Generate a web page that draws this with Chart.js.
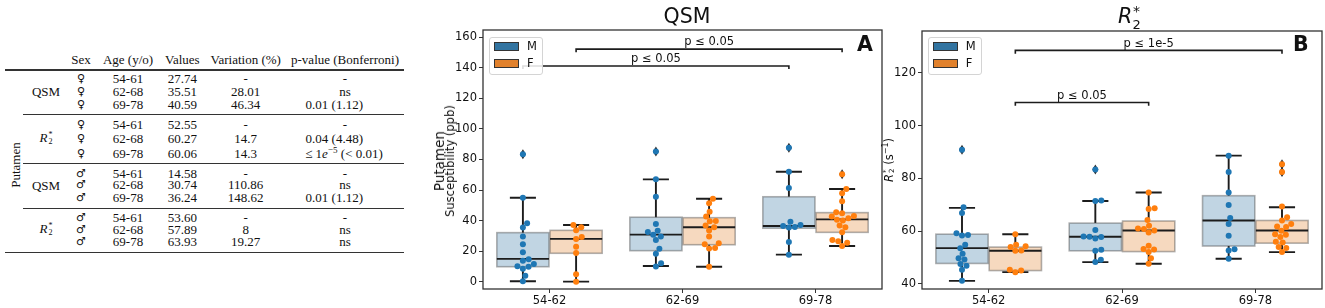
<!DOCTYPE html>
<html><head><meta charset="utf-8">
<script src="https://cdn.jsdelivr.net/npm/chart.js@4"></script>
<style>
html,body{margin:0;padding:0;background:#fff;width:1325px;height:308px;overflow:hidden;position:relative}
.abs{position:absolute}
#tbl{font-family:'Liberation Serif','DejaVu Serif',serif;font-size:13px;color:#111}
.c{position:absolute;transform:translate(-50%,-50%);white-space:nowrap;line-height:1}
.rule{position:absolute;background:#333}
.sans{font-family:'DejaVu Sans',sans-serif;color:#111;white-space:nowrap}
.stk{display:inline-block;vertical-align:middle;font-size:0.62em;line-height:0.85;text-align:left;margin-left:1px}
.stk span{display:block}
.leg{position:absolute;border:1px solid #d4d4d4;border-radius:3px;background:rgba(255,255,255,0.85);box-sizing:border-box}
.patch{position:absolute;width:25px;height:8.5px;border:1px solid #333;box-sizing:border-box}
.legt{position:absolute;font-family:'DejaVu Sans',sans-serif;font-size:11.5px;line-height:1;color:#111}
</style></head><body>
<div id="tbl" class="abs" style="left:0;top:0;width:420px;height:308px"></div>
<canvas id="cA" width="465" height="308" class="abs" style="left:420px;top:0;width:465px;height:308px"></canvas>
<canvas id="cB" width="465" height="308" class="abs" style="left:860px;top:0;width:465px;height:308px"></canvas>

<!-- titles and labels -->
<div class="sans abs" style="left:687px;top:5.6px;font-size:20.5px;line-height:1;transform:translateX(-50%)">QSM</div>
<div class="sans abs" style="left:1118px;top:6px;font-size:20.5px;line-height:1;font-style:italic">R</div>
<div class="sans abs" style="left:1132.5px;top:18.3px;font-size:13px;line-height:1">2</div>
<div class="sans abs" style="left:1133px;top:3.8px;font-size:14px;line-height:1">*</div>
<div class="abs" style="left:857px;top:34.3px;font-family:'DejaVu Sans';font-weight:bold;font-size:20.5px;line-height:1;color:#111">A</div>
<div class="abs" style="left:1293px;top:34.3px;font-family:'DejaVu Sans';font-weight:bold;font-size:20.5px;line-height:1;color:#111">B</div>
<div class="sans abs" style="left:445px;top:161px;transform:translate(-50%,-50%) rotate(-90deg);text-align:center">
  <div style="font-size:13.5px;line-height:11px">Putamen</div>
  <div style="font-size:11.5px;line-height:11px">Susceptibility (ppb)</div>
</div>
<div class="sans abs" style="left:889px;top:160px;transform:translate(-50%,-50%) rotate(-90deg);font-size:11.5px;line-height:1">
  <i>R</i><span class="stk"><span>*</span><span>2</span></span> (s<sup style="font-size:0.7em">−1</sup>)
</div>
<div id="legA"></div><div id="legB"></div>

<script>
// ---------------- DATA ----------------
const ageGroups = ['54-62', '62-69', '69-78'];
const sexLabels = ['M', 'F'];
const qsmTicks = [0, 20, 40, 60, 80, 100, 120, 140, 160];
const r2Ticks = [40, 60, 80, 100, 120];

// box stats per age group: [lower whisker, Q1, median, Q3, upper whisker]
const qsmMaleBox = [[0.3, 9.8, 14.9, 32.1, 55.0], [10.3, 20.3, 30.8, 42.2, 67.0], [17.7, 35.0, 36.5, 55.6, 72.0]];
const qsmFemaleBox = [[0, 18.6, 28.0, 33.6, 37.1], [9.8, 24.2, 35.6, 41.9, 54.3], [23.4, 32.3, 40.8, 45.2, 60.7]];
const qsmMalePoints = [
  [83.4, 55.0, 38.2, 35.4, 29.5, 24.5, 19.2, 14.7, 13.7, 11.6, 10.1, 9.8, 8.5, 3.9, 0.3],
  [85.3, 67.0, 55.6, 37.8, 33.4, 32.6, 30.8, 29.5, 27.3, 21.5, 18.3, 12.0, 10.0],
  [87.7, 72.0, 61.3, 39.3, 37.1, 36.5, 35.8, 35.5, 26.0, 17.7]];
const qsmFemalePoints = [
  [37.1, 35.6, 33.6, 29.3, 28.0, 22.9, 18.8, 4.8, 0],
  [54.3, 51.3, 45.8, 42.6, 39.7, 39.5, 36.7, 35.6, 33.5, 29.5, 25.1, 24.5, 22.0, 21.8, 9.8],
  [70.3, 60.7, 57.9, 52.6, 45.4, 44.8, 43.0, 42.6, 41.5, 40.6, 40.0, 36.7, 35.6, 32.3, 27.3, 26.4, 25.5, 23.4]];
const qsmMaleOutliers = [[83.4], [85.3], [87.7]];
const qsmFemaleOutliers = [[], [], [70.3]];
const qsmBracketGroups = [[0, 'F', 2, 'F'], [0, 'M', 2, 'M']];
const qsmBracketY = [150.3, 139.2];
const qsmBracketH = 2.0;
const qsmBracketLabels = ['p ≤ 0.05', 'p ≤ 0.05'];

const r2MaleBox = [[41.1, 47.7, 53.5, 58.8, 68.8], [48.2, 52.5, 57.8, 63.0, 71.4], [49.5, 54.3, 64.0, 73.4, 88.6]];
const r2FemaleBox = [[44.4, 45.0, 52.5, 53.9, 58.8], [47.6, 52.2, 60.2, 63.8, 74.6], [52.0, 55.4, 60.2, 64.0, 69.0]];
const r2MalePoints = [
  [90.8, 69.0, 66.8, 59.2, 58.5, 58.3, 54.8, 53.5, 51.4, 49.7, 49.2, 47.5, 46.8, 45.3, 41.1],
  [83.3, 71.6, 71.4, 60.4, 57.9, 57.8, 57.7, 57.2, 52.9, 52.5, 49.1, 48.2],
  [88.6, 82.4, 74.6, 69.9, 64.9, 62.7, 58.2, 53.1, 52.6, 49.5]];
const r2FemalePoints = [
  [58.8, 54.8, 54.2, 53.9, 52.6, 52.5, 45.3, 45.0, 44.4],
  [74.6, 68.6, 68.4, 64.2, 62.0, 61.0, 60.8, 60.2, 59.4, 54.4, 53.2, 53.0, 52.0, 49.7, 47.6],
  [85.3, 82.4, 69.3, 65.2, 64.0, 62.7, 61.7, 61.5, 60.1, 58.8, 58.6, 57.7, 55.9, 55.6, 53.9, 53.6, 52.0]];
const r2MaleOutliers = [[90.8], [83.3], []];
const r2FemaleOutliers = [[], [], [85.3, 82.4]];
const r2BracketGroups = [[0, 'F', 2, 'F'], [0, 'F', 1, 'F']];
const r2BracketY = [127.3, 107.5];
const r2BracketH = 1.25;
const r2BracketLabels = ['p ≤ 1e-5', 'p ≤ 0.05'];

// table
const tableHeader = ['Sex', 'Age (y/o)', 'Values', 'Variation (%)', 'p-value (Bonferroni)'];
const tableRegion = 'Putamen';
const tableMeasures = ['QSM', 'R2*', 'QSM', 'R2*'];
const tableSex = ['♀', '♀', '♂', '♂'];
const tableAges = ['54-61', '62-68', '69-78'];
const tableValues = [['27.74', '35.51', '40.59'], ['52.55', '60.27', '60.06'], ['14.58', '30.74', '36.24'], ['53.60', '57.89', '63.93']];
const tableVariation = [['-', '28.01', '46.34'], ['-', '14.7', '14.3'], ['-', '110.86', '148.62'], ['-', '8', '19.27']];
const tablePvalues = [['-', 'ns', '0.01 (1.12)'], ['-', '0.04 (4.48)', '≤ 1e−5 (< 0.01)'], ['-', 'ns', '0.01 (1.12)'], ['-', 'ns', 'ns']];

// ---------------- STYLE ----------------
const boxEdge = { M: 'rgba(50,116,161,0.3)', F: 'rgba(225,129,44,0.3)' };
const patchCol = { M: '#3274a1', F: '#e1812c' };
const dotCol = { M: '#1f77b4', F: '#ff7f0e' };
const sexOffset = { M: -0.2, F: 0.2 };
const FONT = "'DejaVu Sans', sans-serif";

// ---------------- TABLE ----------------
(function buildTable() {
  const t = document.getElementById('tbl');
  const colX = [81, 128, 182.3, 245.7, 345];
  const headerY = 59;
  const rowY = [[77.5, 90.8, 103.8], [123.7, 137.8, 152.5], [172.7, 184, 196.7], [216.8, 229.3, 241.3]];
  const rules = [[70, 5, 1.3], [114.5, 23, 0.7], [163, 23, 0.7], [208.3, 23, 0.7], [252.5, 5, 1.3]];
  function cell(x, y, html, extra) {
    const d = document.createElement('div');
    d.className = 'c'; d.style.left = x + 'px'; d.style.top = y + 'px';
    if (extra) d.style.cssText += extra;
    d.innerHTML = html; t.appendChild(d);
  }
  function mathR2() { return '<i>R</i><span class="stk"><span>*</span><span>2</span></span>'; }
  function fmtP(s) {
    if (s.startsWith('≤')) return '≤ 1<i>e</i><sup style="font-size:0.7em">−5</sup> (&lt; 0.01)';
    return s;
  }
  tableHeader.forEach((h, i) => cell(colX[i], headerY, h));
  rules.forEach(([y, x0, w]) => {
    const r = document.createElement('div'); r.className = 'rule';
    r.style.cssText += `left:${x0}px;top:${y - w / 2}px;width:${404 - x0}px;height:${w}px`;
    t.appendChild(r);
  });
  cell(15, 165, tableRegion, 'transform:translate(-50%,-50%) rotate(-90deg)');
  tableMeasures.forEach((m, g) => {
    const gy = (rowY[g][0] + rowY[g][2]) / 2;
    cell(46, gy, m === 'R2*' ? mathR2() : m);
    tableAges.forEach((a, r) => {
      const y = rowY[g][r];
      cell(colX[0], y, tableSex[g], "font-family:'DejaVu Sans';font-size:11px");
      cell(colX[1], y, a);
      cell(colX[2], y, tableValues[g][r]);
      cell(colX[3], y, tableVariation[g][r]);
      const p = tablePvalues[g][r];
      const px = /^[0-9]/.test(p) ? 334.3 : (p.startsWith('≤') ? 344 : colX[4]);
      cell(px, y, fmtP(p));
    });
  });
})();

// ---------------- LEGENDS ----------------
function buildLegend(id, left, top) {
  const c = document.getElementById(id);
  c.innerHTML = `<div class="leg" style="left:${left}px;top:${top}px;width:54px;height:38.5px"></div>` +
    sexLabels.map((s, i) =>
      `<div class="patch" style="left:${left + 5}px;top:${top + 5.5 + i * 17}px;background:${patchCol[s]}"></div>` +
      `<div class="legt" style="left:${left + 38}px;top:${top + 4 + i * 17}px">${s}</div>`).join('');
}
buildLegend('legA', 489, 36.7);
buildLegend('legB', 927.7, 36.7);

// ---------------- CHARTS ----------------
function beeswarm(values, cx, ys, d) {
  const pts = values.map(v => ({ v, y: ys.getPixelForValue(v) })).sort((a, b) => b.y - a.y);
  const placed = [];
  for (const p of pts) {
    const cands = [0];
    for (const q of placed) {
      const dy = Math.abs(q.y - p.y);
      if (dy < d) { const dx = Math.sqrt(d * d - dy * dy); cands.push(q.dx + dx, q.dx - dx); }
    }
    cands.sort((a, b) => Math.abs(a) - Math.abs(b));
    let chosen = 0;
    for (const c of cands) {
      let ok = true;
      for (const q of placed) {
        const ddx = c - q.dx, ddy = p.y - q.y;
        if (ddx * ddx + ddy * ddy < d * d - 0.01) { ok = false; break; }
      }
      if (ok) { chosen = c; break; }
    }
    p.dx = chosen; placed.push(p);
  }
  return placed;
}

function makeChart(canvasId, cfg) {
  const boxPlugin = {
    id: 'boxes',
    beforeDatasetsDraw(chart) {
      const ctx = chart.ctx, xs = chart.scales.x, ys = chart.scales.y;
      ctx.save();
      cfg.groups.forEach(g => {
        g.box.forEach((b, i) => {
          const c = i + sexOffset[g.sex];
          const x0 = xs.getPixelForValue(c - 0.196), x1 = xs.getPixelForValue(c + 0.196);
          const xc = xs.getPixelForValue(c);
          const cw = xs.getPixelForValue(c + 0.098) - xc;
          const [lo, q1, med, q3, hi] = b.map(v => ys.getPixelForValue(v));
          // whiskers
          ctx.strokeStyle = '#1c1c1c'; ctx.lineWidth = 1.9; ctx.lineCap = 'butt';
          ctx.beginPath();
          ctx.moveTo(xc, q3); ctx.lineTo(xc, hi);
          ctx.moveTo(xc, q1); ctx.lineTo(xc, lo);
          ctx.moveTo(xc - cw, hi); ctx.lineTo(xc + cw, hi);
          ctx.moveTo(xc - cw, lo); ctx.lineTo(xc + cw, lo);
          ctx.stroke();
          // box
          ctx.fillStyle = boxEdge[g.sex];
          ctx.fillRect(x0, q3, x1 - x0, q1 - q3);
          ctx.strokeStyle = 'rgba(70,70,70,0.42)'; ctx.lineWidth = 1.6;
          ctx.strokeRect(x0, q3, x1 - x0, q1 - q3);
          // median
          ctx.strokeStyle = '#1c1c1c'; ctx.lineWidth = 1.9;
          ctx.beginPath(); ctx.moveTo(x0, med); ctx.lineTo(x1, med); ctx.stroke();
          // fliers (thin diamonds)
          ctx.fillStyle = '#2a2a2a';
          g.out[i].forEach(v => {
            const y = ys.getPixelForValue(v);
            ctx.beginPath();
            ctx.moveTo(xc, y - 5); ctx.lineTo(xc + 3, y); ctx.lineTo(xc, y + 5); ctx.lineTo(xc - 3, y);
            ctx.closePath(); ctx.fill();
          });
        });
      });
      ctx.restore();
    },
    afterDatasetsDraw(chart) {
      const ctx = chart.ctx, xs = chart.scales.x, ys = chart.scales.y;
      ctx.save();
      ctx.strokeStyle = '#1c1c1c'; ctx.lineWidth = 1.6;
      ctx.fillStyle = '#111'; ctx.font = '11.5px ' + FONT; ctx.textAlign = 'center'; ctx.textBaseline = 'alphabetic';
      cfg.brackets.groups.forEach((bg, k) => {
        const xa = xs.getPixelForValue(bg[0] + sexOffset[bg[1]]);
        const xb = xs.getPixelForValue(bg[2] + sexOffset[bg[3]]);
        const y0 = ys.getPixelForValue(cfg.brackets.y[k]);
        const y1 = ys.getPixelForValue(cfg.brackets.y[k] + cfg.brackets.h);
        ctx.beginPath();
        ctx.moveTo(xa, y0); ctx.lineTo(xa, y1); ctx.lineTo(xb, y1); ctx.lineTo(xb, y0);
        ctx.stroke();
        ctx.fillText(cfg.brackets.labels[k], (xa + xb) / 2, y1 - 3.8);
      });
      ctx.restore();
    },
    afterDraw(chart) {
      const a = chart.chartArea, ctx = chart.ctx;
      ctx.save(); ctx.strokeStyle = '#333'; ctx.lineWidth = 1.3;
      ctx.strokeRect(a.left, a.top, a.right - a.left, a.bottom - a.top);
      ctx.restore();
    }
  };

  const datasets = cfg.groups.map(g => ({
    label: g.sex, sex: g.sex, raw: g.points,
    data: [], backgroundColor: dotCol[g.sex], borderWidth: 0,
    pointRadius: 3, pointHoverRadius: 3
  }));

  const tickFont = { family: FONT, size: 11.5 };
  const chart = new Chart(document.getElementById(canvasId), {
    type: 'scatter',
    data: { datasets },
    options: {
      responsive: false, animation: false, events: [],
      layout: { padding: cfg.padding },
      plugins: { legend: { display: false }, tooltip: { enabled: false }, title: { display: false } },
      scales: {
        x: {
          type: 'linear', min: -0.5, max: 2.5,
          afterBuildTicks: s => { s.ticks = ageGroups.map((_, i) => ({ value: i })); },
          afterFit: s => { s.height = 19; },
          ticks: { callback: v => ageGroups[Math.round(v)], font: tickFont, color: '#111', autoSkip: false, maxRotation: 0, minRotation: 0, padding: 1 },
          grid: { drawOnChartArea: false, drawTicks: true, tickLength: 4, color: '#333', lineWidth: 1 },
          border: { display: false }
        },
        y: {
          min: cfg.yMin, max: cfg.yMax,
          afterBuildTicks: s => { s.ticks = cfg.yTicks.map(v => ({ value: v })); },
          afterFit: s => { s.width = cfg.yWidth; },
          ticks: { font: tickFont, color: '#111', padding: 2 },
          grid: { drawOnChartArea: false, drawTicks: true, tickLength: 4, color: '#333', lineWidth: 1 },
          border: { display: false }
        }
      }
    },
    plugins: [boxPlugin]
  });

  // swarm layout computed through the chart's scales
  const xs = chart.scales.x, ys = chart.scales.y;
  chart.data.datasets.forEach(ds => {
    const out = [];
    ds.raw.forEach((vals, gi) => {
      const cx = xs.getPixelForValue(gi + sexOffset[ds.sex]);
      beeswarm(vals, cx, ys, 6).forEach(p => out.push({ x: xs.getValueForPixel(cx + p.dx), y: p.v }));
    });
    ds.data = out;
  });
  chart.update('none');
  return chart;
}

makeChart('cA', {
  yMin: -4.8, yMax: 164.8, yTicks: qsmTicks, yWidth: 63,
  padding: { top: 30, right: 2, left: 0, bottom: 0 },
  groups: [
    { sex: 'M', box: qsmMaleBox, points: qsmMalePoints, out: qsmMaleOutliers },
    { sex: 'F', box: qsmFemaleBox, points: qsmFemalePoints, out: qsmFemaleOutliers }],
  brackets: { groups: qsmBracketGroups, y: qsmBracketY, h: qsmBracketH, labels: qsmBracketLabels }
});
makeChart('cB', {
  yMin: 38.0, yMax: 135.9, yTicks: r2Ticks, yWidth: 62,
  padding: { top: 31, right: 3, left: 0, bottom: 0 },
  groups: [
    { sex: 'M', box: r2MaleBox, points: r2MalePoints, out: r2MaleOutliers },
    { sex: 'F', box: r2FemaleBox, points: r2FemalePoints, out: r2FemaleOutliers }],
  brackets: { groups: r2BracketGroups, y: r2BracketY, h: r2BracketH, labels: r2BracketLabels }
});
</script>
</body></html>
